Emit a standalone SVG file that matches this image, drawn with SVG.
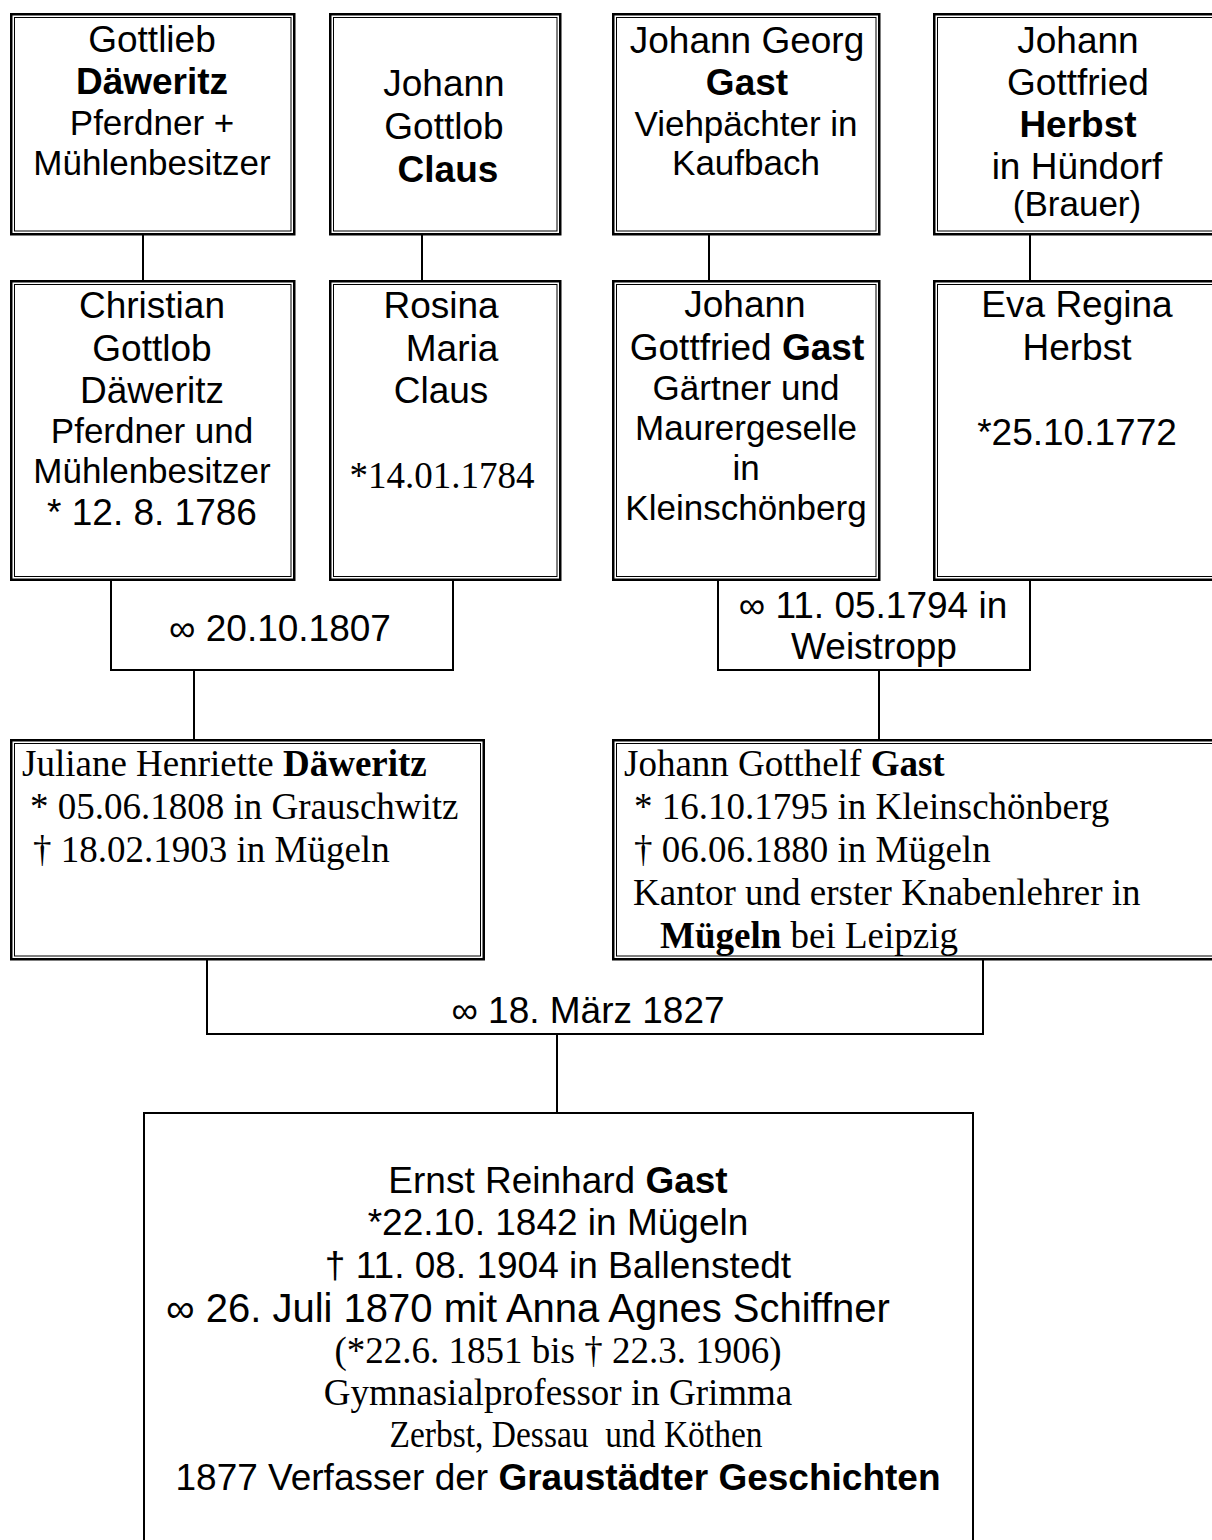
<svg xmlns="http://www.w3.org/2000/svg" width="1212" height="1540" viewBox="0 0 1212 1540">
<style>
.o{fill:#fff;stroke:#000;stroke-width:2.5}
.i{fill:none;stroke:#000;stroke-width:1}
.s{fill:#fff;stroke:#000;stroke-width:2}
.c{fill:none;stroke:#000;stroke-width:2}
.a{font-family:"Liberation Sans",Arial,sans-serif;font-size:37px;fill:#000}
.a35{font-size:35px}
.a40{font-size:40px}
.t{font-family:"Liberation Serif","Times New Roman",serif;font-size:37px;fill:#000}
.m{text-anchor:middle}
.b{font-weight:bold}
</style>
<rect width="1212" height="1540" fill="#fff"/>
<g id="connectors">
<path class="c" d="M143 235V281M422 235V281M709 235V281M1030 235V281"/>
<path class="c" d="M111 580V670H453V580"/>
<path class="c" d="M718 580V670H1030V580"/>
<path class="c" d="M194 670V740M879 670V740"/>
<path class="c" d="M207 959V1034H983V959"/>
<path class="c" d="M557 1034V1112"/>
</g>
<g id="n1">
<rect class="o" x="11.25" y="14.25" width="283" height="220"/><rect class="i" x="14.5" y="17.5" width="276.5" height="213.5"/>
<text class="a m" x="152" y="52">Gottlieb</text>
<text class="a m b" x="152" y="94">Däweritz</text>
<text class="a a35 m" x="152" y="135">Pferdner +</text>
<text class="a a35 m" x="152" y="175">Mühlenbesitzer</text>
</g>
<g id="n2">
<rect class="o" x="330.25" y="14.25" width="230" height="220"/><rect class="i" x="333.5" y="17.5" width="223.5" height="213.5"/>
<text class="a m" x="444" y="96">Johann</text>
<text class="a m" x="444" y="139">Gottlob</text>
<text class="a m b" x="448" y="182">Claus</text>
</g>
<g id="n3">
<rect class="o" x="613.25" y="14.25" width="266" height="220"/><rect class="i" x="616.5" y="17.5" width="259.5" height="213.5"/>
<text class="a m" x="747" y="53">Johann Georg</text>
<text class="a m b" x="747" y="95">Gast</text>
<text class="a a35 m" x="746" y="136">Viehpächter in</text>
<text class="a a35 m" x="746" y="175">Kaufbach</text>
</g>
<g id="n4">
<rect class="o" x="934.25" y="14.25" width="300" height="220"/><rect class="i" x="937.5" y="17.5" width="293.5" height="213.5"/>
<text class="a m" x="1078" y="53">Johann</text>
<text class="a m" x="1078" y="95">Gottfried</text>
<text class="a m b" x="1078" y="137">Herbst</text>
<text class="a m" x="1077" y="179">in Hündorf</text>
<text class="a a35 m" x="1077" y="216">(Brauer)</text>
</g>
<g id="n5">
<rect class="o" x="11.25" y="281.25" width="283" height="298.5"/><rect class="i" x="14.5" y="284.5" width="276.5" height="292"/>
<text class="a m" x="152" y="318">Christian</text>
<text class="a m" x="152" y="361">Gottlob</text>
<text class="a m" x="152" y="403">Däweritz</text>
<text class="a a35 m" x="152" y="443">Pferdner und</text>
<text class="a a35 m" x="152" y="483">Mühlenbesitzer</text>
<text class="a m" x="152" y="525">* 12. 8. 1786</text>
</g>
<g id="n6">
<rect class="o" x="330.25" y="281.25" width="230" height="298.5"/><rect class="i" x="333.5" y="284.5" width="223.5" height="292"/>
<text class="a m" x="441" y="318">Rosina</text>
<text class="a m" x="452" y="361">Maria</text>
<text class="a m" x="441" y="403">Claus</text>
<text class="t m" x="442" y="488">*14.01.1784</text>
</g>
<g id="n7">
<rect class="o" x="613.25" y="281.25" width="266" height="298.5"/><rect class="i" x="616.5" y="284.5" width="259.5" height="292"/>
<text class="a m" x="745" y="317">Johann</text>
<text class="a m" x="747" y="360">Gottfried <tspan class="b">Gast</tspan></text>
<text class="a a35 m" x="746" y="400">Gärtner und</text>
<text class="a a35 m" x="746" y="440">Maurergeselle</text>
<text class="a a35 m" x="746" y="480">in</text>
<text class="a a35 m" x="746" y="520">Kleinschönberg</text>
</g>
<g id="n8">
<rect class="o" x="934.25" y="281.25" width="300" height="298.5"/><rect class="i" x="937.5" y="284.5" width="293.5" height="292"/>
<text class="a m" x="1077" y="317">Eva Regina</text>
<text class="a m" x="1077" y="360">Herbst</text>
<text class="a m" x="1077" y="445">*25.10.1772</text>
</g>
<g id="m1">
<text class="a m" x="280" y="641">∞ 20.10.1807</text>
</g>
<g id="m2">
<text class="a m" x="873" y="618">∞ 11. 05.1794 in</text>
<text class="a m" x="874" y="659">Weistropp</text>
</g>
<g id="n9">
<rect class="o" x="11.25" y="740.25" width="472.5" height="219"/><rect class="i" x="14.5" y="743.5" width="466" height="212.5"/>
<text class="t" x="22" y="776">Juliane Henriette <tspan class="b">Däweritz</tspan></text>
<text class="t" x="30" y="819">* 05.06.1808 in Grauschwitz</text>
<text class="t" x="33" y="862">† 18.02.1903 in Mügeln</text>
</g>
<g id="n10">
<rect class="o" x="613.25" y="740.25" width="620" height="219"/><rect class="i" x="616.5" y="743.5" width="613.5" height="212.5"/>
<text class="t" x="624" y="776">Johann Gotthelf <tspan class="b">Gast</tspan></text>
<text class="t" x="634" y="819">* 16.10.1795 in Kleinschönberg</text>
<text class="t" x="634" y="862">† 06.06.1880 in Mügeln</text>
<text class="t" x="633" y="905">Kantor und erster Knabenlehrer in</text>
<text class="t" x="660" y="948"><tspan class="b">Mügeln</tspan> bei Leipzig</text>
</g>
<g id="m3">
<text class="a m" x="588" y="1023">∞ 18. März 1827</text>
</g>
<g id="n11">
<rect class="s" x="144" y="1113" width="829" height="460"/>
<text class="a m" x="558" y="1193">Ernst Reinhard <tspan class="b">Gast</tspan></text>
<text class="a m" x="558" y="1235">*22.10. 1842 in Mügeln</text>
<text class="a m" x="558" y="1278">† 11. 08. 1904 in Ballenstedt</text>
<text class="a a40 m" x="528" y="1322">∞ 26. Juli 1870 mit Anna Agnes Schiffner</text>
<text class="t m" x="558" y="1363">(*22.6. 1851 bis † 22.3. 1906)</text>
<text class="t m" x="558" y="1405">Gymnasialprofessor in Grimma</text>
<text class="t m" x="576" y="1447" xml:space="preserve" textLength="373" lengthAdjust="spacingAndGlyphs">Zerbst, Dessau  und Köthen</text>
<text class="a m" x="558" y="1490">1877 Verfasser der <tspan class="b">Graustädter Geschichten</tspan></text>
</g>
</svg>
